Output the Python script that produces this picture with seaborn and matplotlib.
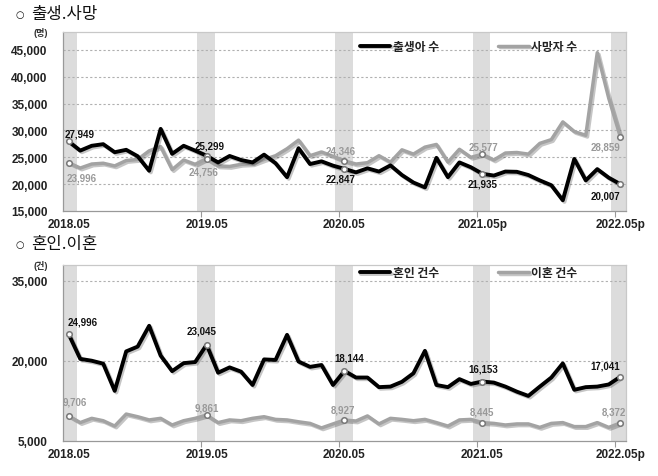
import numpy as np
import pandas as pd
import matplotlib
matplotlib.use("Agg")
import matplotlib.pyplot as plt
import matplotlib.patheffects as pe
import seaborn as sns

# ---------------- data ----------------
months_top_labels = ["2018.05", "2019.05", "2020.05", "2021.05p", "2022.05p"]
months_bot_labels = ["2018.05", "2019.05", "2020.05", "2021.05", "2022.05p"]

births = [27949, 26250, 27150, 27450, 25950, 26400, 25200, 22500, 30300, 25650,
          27150, 26250, 25299, 24050, 25250, 24500, 24050, 25500, 23900, 21300,
          26700, 23750, 24250, 23450, 22847, 22200, 22950, 22350, 23500, 21700,
          20300, 19400, 24900, 21300, 24050, 23150, 21935, 21600, 22350, 22300,
          21700, 20700, 19800, 17000, 24700, 20700, 22800, 21200, 20007]
deaths = [23996, 23000, 23750, 23900, 23400, 24400, 24600, 26200, 27000, 22700,
          24500, 23700, 24756, 23400, 23300, 23700, 23800, 24600, 25300, 26600,
          28200, 25300, 26000, 25200, 24346, 23750, 24000, 25300, 24100, 26400,
          25600, 26900, 27400, 24100, 26500, 25000, 25577, 24500, 25800, 25900,
          25600, 27600, 28300, 31600, 29800, 29100, 44500, 36000, 28859]
marriages = [24996, 20400, 20050, 19500, 14400, 21800, 22700, 26600, 21000, 18100,
             19600, 19800, 23045, 17800, 18800, 18000, 15500, 20300, 20200, 24900,
             19900, 18900, 19250, 15500, 18144, 16900, 16900, 15100, 15200, 16100,
             17700, 21900, 15500, 15100, 16600, 15700, 16153, 15950, 15200, 14250,
             13450, 15200, 16900, 19550, 14600, 15100, 15200, 15600, 17041]
divorces = [9706, 8450, 9250, 8800, 7800, 10050, 9550, 8950, 9250, 8000,
            8800, 9250, 9861, 8450, 8950, 8800, 9250, 9550, 9050, 8950,
            8600, 8300, 7450, 8200, 8927, 8750, 9700, 8200, 9250, 9050,
            8800, 9050, 8450, 7800, 8950, 9050, 8445, 8300, 8000, 8200,
            8200, 7550, 8300, 8450, 7700, 7700, 8450, 7550, 8372]

label_idx = [0, 12, 24, 36, 48]

# ---------------- style ----------------
sns.set_theme(style="white")
plt.rcParams['font.family'] = ['Liberation Sans', 'Noto Sans CJK KR', 'DejaVu Sans']

fig = plt.figure(figsize=(6.58, 4.77), dpi=100)
ax1 = fig.add_axes([63/658, 1-212/477, 563/658, 179/477])
ax2 = fig.add_axes([63/658, 1-442/477, 563/658, 176/477])

x = np.arange(len(births))
df_top = pd.DataFrame({"x": x, "births": births, "deaths": deaths})
df_bot = pd.DataFrame({"x": x, "marriages": marriages, "divorces": divorces})

GRAY = "#a3a3a3"
shadow = [pe.SimpleLineShadow(offset=(1.2, -1.2), shadow_color="k", alpha=0.25), pe.Normal()]


def decorate(ax, ylim, yticks, xlabels, unit):
    ax.set_xlim(-0.5, len(births) - 0.5)
    ax.set_ylim(*ylim)
    for i in label_idx:
        ax.axvspan(i - 0.8, i + 0.7, color="#dcdcdc", zorder=0, lw=0)
    for yt in yticks[1:]:
        ax.axhline(yt, color="#b0b0b0", lw=0.8, ls=(0, (2, 2)), zorder=0.5)
    ax.set_yticks(yticks)
    ax.set_yticklabels([f"{v:,}" for v in yticks], fontsize=8.5, fontweight="bold", color="#222222")
    ax.set_xticks(label_idx)
    ax.set_xticklabels(xlabels, fontsize=8.5, fontweight="bold", color="#222222")
    ax.set_xticks([11.5, 23.5, 35.5, 47.5], minor=True)
    ax.tick_params(axis="x", which="major", length=0, pad=5)
    ax.tick_params(axis="x", which="minor", length=4, color="#999999", width=0.8, bottom=True)
    ax.tick_params(axis="y", length=0, pad=11)
    for s in ax.spines.values():
        s.set_color("#c8c8c8")
        s.set_linewidth(0.9)
    ax.spines["bottom"].set_color("#999999")
    ax.spines["left"].set_color("#999999")
    ax.set_xlabel("")
    ax.set_ylabel("")
    ax.text(-0.04, 1.0, unit, transform=ax.transAxes, fontsize=6.5, fontweight="bold",
            ha="center", va="center", color="#333333")


# ---------------- top chart ----------------
sns.lineplot(data=df_top, x="x", y="births", ax=ax1, color="black", lw=2.8,
             label="출생아 수", path_effects=shadow, zorder=3)
sns.lineplot(data=df_top, x="x", y="deaths", ax=ax1, color=GRAY, lw=2.5,
             label="사망자 수", path_effects=shadow, zorder=2)
decorate(ax1, (15000, 48350), [15000, 20000, 25000, 30000, 35000, 40000, 45000],
         months_top_labels, "(명)")

# ---------------- bottom chart ----------------
sns.lineplot(data=df_bot, x="x", y="marriages", ax=ax2, color="black", lw=2.8,
             label="혼인 건수", path_effects=shadow, zorder=3)
sns.lineplot(data=df_bot, x="x", y="divorces", ax=ax2, color=GRAY, lw=2.5,
             label="이혼 건수", path_effects=shadow, zorder=2)
decorate(ax2, (5000, 38000), [5000, 20000, 35000], months_bot_labels, "(건)")

# markers and value labels
def mark(ax, series, offsets, color):
    xs = label_idx
    ys = [series[i] for i in xs]
    ax.scatter(xs, ys, s=16, facecolor="white", edgecolor="#777777", linewidth=1.1, zorder=5)
    for (i, y, (dx, dy, ha)) in zip(xs, ys, offsets):
        ax.annotate(f"{y:,}", (i, y), xytext=(dx, dy), textcoords="offset pixels",
                    fontsize=7, fontweight="bold", color=color, ha=ha, va="center", zorder=6)

mark(ax1, births, [(-4, 8, "left"), (3, 10, "center"), (-4, -10, "center"), (0, -10, "center"), (0, -11, "right")], "#111111")
mark(ax1, deaths, [(-2, -15, "left"), (-3, -13, "center"), (-4, 10, "center"), (1, 8, "center"), (0, -10, "right")], "#999999")
mark(ax2, marriages, [(-1, 13, "left"), (-5, 14, "center"), (5, 13, "center"), (1, 13, "center"), (0, 11, "right")], "#111111")
mark(ax2, divorces, [(-6, 14, "left"), (0, 8, "center"), (-2, 11, "center"), (0, 11, "center"), (-6, 12, "center")], "#999999")

# legends
for ax, y in ((ax1, 0.92), (ax2, 0.955)):
    leg = ax.legend(loc="center", bbox_to_anchor=(0.72, y), ncol=2, frameon=False,
                    handlelength=2.6, handletextpad=0.2, columnspacing=5.0,
                    prop={"size": 8.5, "weight": "bold", "family": ["Noto Sans CJK KR", "DejaVu Sans"]})
    for t in leg.get_texts():
        t.set_color("#222222")

# section titles
for ypix, title in ((15, "출생.사망"), (245, "혼인.이혼")):
    fig.text(15/658, 1 - ypix/477, "○", fontsize=7, va="center", ha="left",
             family=["DejaVu Sans"], color="#111111")
    fig.text(31/658, 1 - ypix/477, title, fontsize=12, va="center", ha="left",
             family=["Noto Sans CJK KR", "DejaVu Sans"], color="#111111")

fig.savefig("out.png", dpi=100)
